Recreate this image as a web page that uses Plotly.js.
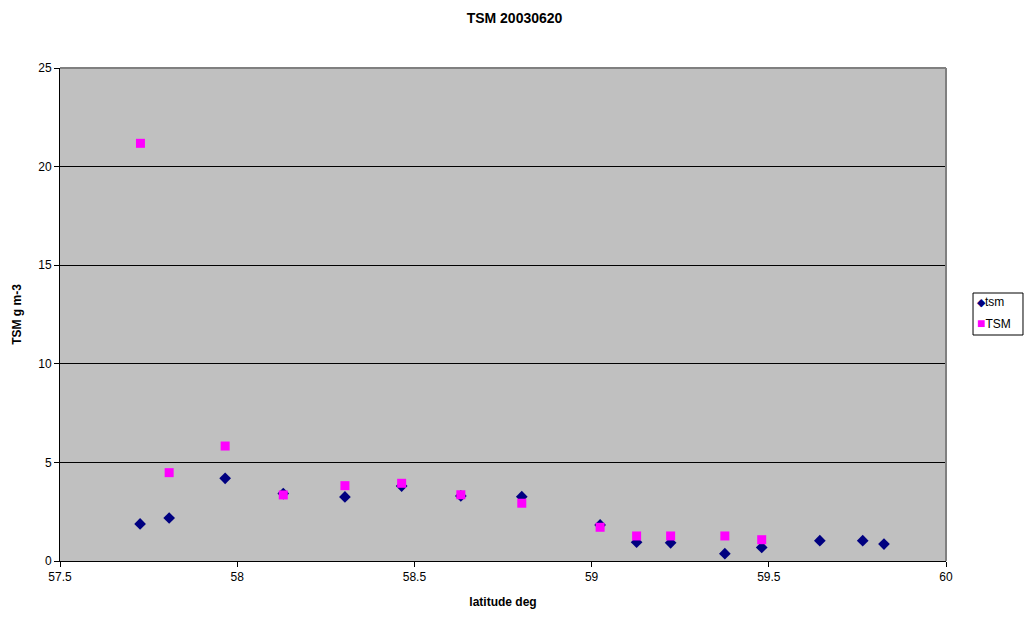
<!DOCTYPE html>
<html>
<head>
<meta charset="utf-8">
<script src="https://cdn.plot.ly/plotly-3.0.1.min.js"></script>
<style>
  html, body { margin: 0; padding: 0; background: #ffffff; }
  #chart { width: 1029px; height: 618px; }
</style>
</head>
<body>
<div id="chart"></div>
<script>
// Station latitudes (deg) and suspended matter concentrations (g m-3)
const tsmLat = [57.726, 57.808, 57.966, 58.130, 58.304, 58.464, 58.631, 58.803, 59.024, 59.127, 59.223, 59.376, 59.480, 59.644, 59.765, 59.825];
const tsmVal = [1.88, 2.18, 4.19, 3.42, 3.25, 3.80, 3.30, 3.26, 1.83, 0.95, 0.92, 0.37, 0.69, 1.03, 1.03, 0.86];

const TSMLat = [57.727, 57.808, 57.966, 58.130, 58.304, 58.464, 58.631, 58.803, 59.024, 59.127, 59.223, 59.376, 59.480];
const TSMVal = [21.18, 4.48, 5.83, 3.35, 3.82, 3.94, 3.36, 2.93, 1.71, 1.27, 1.27, 1.27, 1.08];

const xTicks = [57.5, 58, 58.5, 59, 59.5, 60];
const yTicks = [0, 5, 10, 15, 20, 25];

const seriesNames = ['tsm', 'TSM'];
const seriesColors = ['#000080', '#FF00FF'];
const seriesGlyphs = ['\u25C6', '\u25A0'];

const font = 'Liberation Sans, Arial, sans-serif';

const traces = [
  {
    x: tsmLat, y: tsmVal, name: seriesNames[0], type: 'scatter', mode: 'markers',
    marker: { symbol: 'diamond', size: 9, color: seriesColors[0] }
  },
  {
    x: TSMLat, y: TSMVal, name: seriesNames[1], type: 'scatter', mode: 'markers',
    marker: { symbol: 'square', size: 9, color: seriesColors[1] }
  }
];

// Compact boxed key to the right of the plot area
const keyRowsY = [0.5254, 0.4828];
const keyAnnotations = seriesNames.map((name, i) => ({
  xref: 'paper', yref: 'paper', x: 1.0325, y: keyRowsY[i],
  xanchor: 'left', yanchor: 'middle', showarrow: false, align: 'left',
  text: '<span style="color:' + seriesColors[i] + ';font-size:' + (i === 0 ? 11 : 14) + 'px">' +
        seriesGlyphs[i] + '</span>' + name,
  font: { family: font, size: 12, color: '#000' }
}));

const layout = {
  width: 1029, height: 618,
  margin: { l: 60, r: 83, t: 68, b: 57, autoexpand: false },
  paper_bgcolor: '#ffffff',
  plot_bgcolor: '#C0C0C0',
  font: { family: font, size: 12, color: '#000000' },
  title: {
    text: '<b>TSM 20030620</b>',
    font: { family: font, size: 14, color: '#000000' },
    x: 0.5, xanchor: 'center', y: 0.97, yanchor: 'middle'
  },
  xaxis: {
    range: [57.5, 60],
    tickvals: xTicks, ticktext: xTicks.map(String),
    ticks: 'outside', ticklen: 5, tickcolor: '#000', tickwidth: 1,
    showgrid: false, zeroline: false,
    showline: true, linecolor: '#000', linewidth: 1,
    tickfont: { family: font, size: 12, color: '#000' },
    title: { text: '<b>latitude deg</b>', font: { family: font, size: 12, color: '#000' }, standoff: 14 }
  },
  yaxis: {
    range: [0, 25],
    tickvals: yTicks, ticktext: yTicks.map(String),
    ticks: 'outside', ticklen: 5, tickcolor: '#000', tickwidth: 1,
    showgrid: true, gridcolor: '#000000', gridwidth: 1,
    zeroline: false,
    showline: true, linecolor: '#000', linewidth: 1,
    tickfont: { family: font, size: 12, color: '#000' },
    title: { text: '<b>TSM g m-3</b>', font: { family: font, size: 12, color: '#000' }, standoff: 14 }
  },
  shapes: [
    { type: 'line', xref: 'paper', yref: 'paper', x0: 0, x1: 1, y0: 1, y1: 1,
      line: { color: '#808080', width: 2 } },
    { type: 'line', xref: 'paper', yref: 'paper', x0: 1, x1: 1, y0: 0, y1: 1,
      line: { color: '#808080', width: 2 } },
    { type: 'rect', xref: 'paper', yref: 'paper', x0: 1.0305, x1: 1.0869, y0: 0.4584, y1: 0.5436,
      line: { color: '#000000', width: 1 }, fillcolor: '#ffffff' }
  ],
  annotations: keyAnnotations,
  showlegend: false
};

Plotly.newPlot('chart', traces, layout, { displayModeBar: false, staticPlot: true });
</script>
</body>
</html>
